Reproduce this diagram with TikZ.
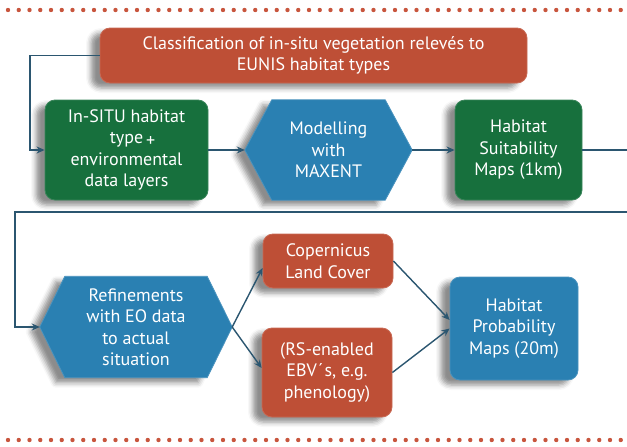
\documentclass[tikz,border=0pt]{standalone}
\usepackage{fontspec}
\setmainfont{PT Sans}
\usetikzlibrary{arrows.meta,shadows.blur,backgrounds,calc}
\definecolor{redb}{HTML}{BE4F36}
\definecolor{greenb}{HTML}{17703D}
\definecolor{blueb}{HTML}{2A80B2}
\definecolor{conn}{HTML}{2B5670}
\definecolor{dotc}{HTML}{C8553D}
\begin{document}
\begin{tikzpicture}[x=1pt,y=-1pt,
  txt/.style={text=white, align=center, font=\fontsize{18}{21.5}\selectfont, inner sep=0pt},
  shad/.style={blur shadow={shadow xshift=-9pt,shadow yshift=-5pt,shadow blur radius=5pt,shadow opacity=45}},
  box/.style={txt, rounded corners=10pt, shad},
  redbox/.style={box, fill=redb, draw=redb!85!white, line width=0.8pt},
  greenbox/.style={box, fill=greenb, draw=greenb!85!white, line width=0.8pt},
  bluebox/.style={box, fill=blueb, draw=blueb!85!white, line width=0.8pt},
  hexfill/.style={fill=blueb, draw=blueb!85!white, line width=0.8pt, shad},
  arr/.style={draw=conn, line width=1.4pt, -{Stealth[length=8pt,width=7pt]}},
  ln/.style={draw=conn, line width=1.4pt},
]
\useasboundingbox (0,0) rectangle (627,447);
% dotted rules
\foreach \i in {0,...,57} {
  \fill[dotc] ({8+10.75*\i},10) circle (2.2pt);
  \fill[dotc] ({8+10.75*\i},440) circle (2.2pt);
}
% nodes
\node[redbox, minimum width=427, minimum height=55] (top) at (313.5,55.5)
  {Classification of in-situ vegetation relevés to\\EUNIS habitat types};
\node[greenbox, minimum width=163, minimum height=100] (g1) at (126.5,150)
  {In-SITU habitat\\type\rlap{\raisebox{-3pt}{\,+}}\\environmental\\data layers};
\node[txt, minimum width=167, minimum height=100] (h1) at (328.5,150)
  {Modelling\\with\\MAXENT};
\node[greenbox, minimum width=127, minimum height=100] (g2) at (518.5,150)
  {Habitat\\Suitability\\Maps (1km)};
\node[txt, minimum width=192, minimum height=101] (h2) at (136,327)
  {Refinements\\with EO data\\to actual\\situation};
\node[redbox, minimum width=130, minimum height=54] (cop) at (328,261)
  {Copernicus\\Land Cover};
\node[redbox, minimum width=130, minimum height=89] (rs) at (327,372.5)
  {(RS-enabled\\EBV\,\'{}s, e.g.\\phenology)};
\node[bluebox, minimum width=128, minimum height=103] (hp) at (514,328.5)
  {Habitat\\Probability\\Maps (20m)};
% hexagons behind text
\begin{scope}[on background layer]
\path[hexfill] (h1.west) -- ([xshift=27pt]h1.north west) -- ([xshift=-27pt]h1.north east)
  -- (h1.east) -- ([xshift=-27pt]h1.south east) -- ([xshift=27pt]h1.south west) -- cycle;
\path[hexfill] (h2.west) -- ([xshift=25pt]h2.north west) -- ([xshift=-25pt]h2.north east)
  -- (h2.east) -- ([xshift=-25pt]h2.south east) -- ([xshift=25pt]h2.south west) -- cycle;
\end{scope}
% connectors
\coordinate (k1) at (30,55.5);
\draw[arr] (top.west) -- (k1) |- (g1.west);
\draw[arr] (g1.east) -- (h1.west);
\draw[arr] (h1.east) -- (g2.west);
\coordinate (e1) at (627,150);
\draw[ln] (g2.east) -- (e1);
\coordinate (e2) at (627,212);
\coordinate (k2) at (15,212);
\draw[arr] (e2) -- (k2) |- (h2.west);
\draw[arr] (h2.east) -- ([yshift=-7pt]cop.west);
\draw[arr] (h2.east) -- ([yshift=4.5pt]rs.west);
\draw[arr] (cop.east) -- ([yshift=8.5pt]hp.west);
\draw[arr] (rs.east) -- ([yshift=0pt]hp.west);
\end{tikzpicture}
\end{document}
